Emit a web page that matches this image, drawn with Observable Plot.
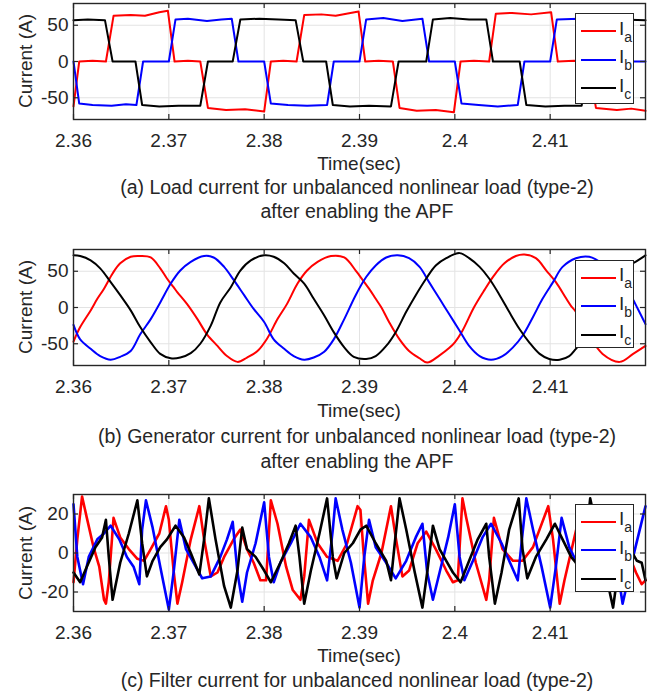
<!DOCTYPE html>
<html><head><meta charset="utf-8">
<script src="https://cdn.jsdelivr.net/npm/d3@7"></script>
<script src="https://cdn.jsdelivr.net/npm/@observablehq/plot@0.6"></script>
<style>
html,body{margin:0;padding:0;background:#fff;}
#root{position:relative;width:654px;height:698px;overflow:hidden;font-family:"Liberation Sans",Arial,Helvetica,sans-serif;color:#262626;}
.panel{position:absolute;left:0;}
.txt{position:absolute;text-align:center;white-space:nowrap;line-height:1;transform:translateY(-50%);}
.ylab{position:absolute;white-space:nowrap;line-height:1;font-size:19px;transform:translate(-50%,-50%) rotate(-90deg);}
.legend{position:absolute;background:#fff;border:1.3px solid #262626;box-sizing:border-box;}
.legend .ln{position:absolute;height:2px;}
.legend .lb{position:absolute;font-size:19px;line-height:19px;white-space:nowrap;color:#262626;}
.legend .lb span{font-size:14px;position:relative;top:7px;}
</style></head><body><div id="root"></div>
<script>
// ---------- axis values ----------
const xTicks = [2.36, 2.37, 2.38, 2.39, 2.40, 2.41];
const xDomain = [2.36, 2.42];
const yTicksAB = [-50, 0, 50];
const yTicksC = [-20, 0, 20];
const seriesNames = ["a", "b", "c"];
const seriesColors = ["#ff0000", "#0000ff", "#000000"];
const captions = [
  ["(a) Load current for unbalanced nonlinear load (type-2)", "after enabling the APF"],
  ["(b) Generator current for unbalanced nonlinear load (type-2)", "after enabling the APF"],
  ["(c) Filter current for unbalanced nonlinear load (type-2)"]
];

// ---------- (a) load current [time s, current A] ----------
const loadIa = [[2.3600,-62],[2.3606,0],[2.3620,1],[2.3634,0],[2.3642,63],[2.3660,64],[2.3675,63],[2.3690,68],[2.3699,70],[2.3706,0],[2.3720,1],[2.3733,0],[2.3741,-64],[2.3760,-67],[2.3780,-66],[2.3800,-69],[2.3807,0],[2.3820,1],[2.3834,0],[2.3842,64],[2.3860,65],[2.3875,63],[2.3899,69],[2.3906,0],[2.3920,1],[2.3935,0],[2.3942,-64],[2.3960,-68],[2.3980,-67],[2.3999,-70],[2.4006,0],[2.4020,1],[2.4036,0],[2.4043,66],[2.4060,67],[2.4080,65],[2.4101,68],[2.4108,0],[2.4125,1],[2.4140,0],[2.4148,-64],[2.4170,-67],[2.4185,-65],[2.4200,-68]];
const loadIb = [[2.3600,0],[2.3606,-58],[2.3620,-60],[2.3640,-61],[2.3655,-59],[2.3666,-60],[2.3673,0],[2.3700,0],[2.3707,58],[2.3720,59],[2.3740,56],[2.3755,58],[2.3766,59],[2.3773,0],[2.3800,0],[2.3807,-58],[2.3825,-60],[2.3845,-61],[2.3866,-60],[2.3873,0],[2.3900,0],[2.3907,58],[2.3925,60],[2.3945,56],[2.3966,59],[2.3973,0],[2.4000,0],[2.4007,-58],[2.4025,-60],[2.4045,-62],[2.4066,-60],[2.4073,0],[2.4100,0],[2.4107,58],[2.4130,59],[2.4150,57],[2.4166,59],[2.4173,0],[2.4200,0]];
const loadIc = [[2.3600,57],[2.3615,58],[2.3633,57],[2.3641,0],[2.3665,0],[2.3672,-60],[2.3690,-62],[2.3710,-61],[2.3733,-61],[2.3741,0],[2.3767,0],[2.3775,58],[2.3795,59],[2.3815,58],[2.3833,57],[2.3841,0],[2.3865,0],[2.3872,-60],[2.3890,-62],[2.3910,-61],[2.3933,-62],[2.3941,0],[2.3970,0],[2.3977,58],[2.3995,60],[2.4015,58],[2.4033,58],[2.4040,0],[2.4068,0],[2.4075,-60],[2.4095,-62],[2.4115,-61],[2.4133,-61],[2.4141,0],[2.4167,0],[2.4175,58],[2.4200,57]];

// ---------- (b) generator current ----------
const genIa = [[2.3600,-47],[2.3607,-27],[2.3618,-4],[2.3625,12],[2.3632,26],[2.3641,47],[2.3649,61],[2.3660,70],[2.3670,71],[2.3681,69],[2.3691,54],[2.3698,40],[2.3705,28],[2.3709,21],[2.3719,5],[2.3730,-16],[2.3740,-37],[2.3751,-53],[2.3761,-67],[2.3772,-75],[2.3782,-69],[2.3793,-60],[2.3803,-43],[2.3814,-16],[2.3824,5],[2.3835,33],[2.3845,51],[2.3856,63],[2.3870,71],[2.3884,69],[2.3896,51],[2.3900,44],[2.3910,26],[2.3917,12],[2.3923,0],[2.3931,-20],[2.3942,-44],[2.3952,-60],[2.3963,-70],[2.3971,-76],[2.3984,-66],[2.3994,-56],[2.4000,-48],[2.4008,-32],[2.4020,0],[2.4031,24],[2.4041,44],[2.4052,61],[2.4064,71],[2.4073,73],[2.4085,68],[2.4096,51],[2.4106,35],[2.4117,12],[2.4122,2],[2.4127,-6],[2.4141,-39],[2.4155,-64],[2.4173,-75],[2.4187,-64],[2.4200,-53]];
const genIb = [[2.3600,-24],[2.3607,-44],[2.3618,-57],[2.3628,-67],[2.3639,-72],[2.3649,-68],[2.3660,-60],[2.3670,-37],[2.3681,-16],[2.3691,7],[2.3702,33],[2.3712,51],[2.3723,63],[2.3737,71],[2.3747,69],[2.3758,56],[2.3768,38],[2.3779,17],[2.3789,-2],[2.3800,-20],[2.3810,-44],[2.3821,-57],[2.3831,-67],[2.3842,-72],[2.3852,-69],[2.3863,-61],[2.3873,-44],[2.3884,-16],[2.3896,17],[2.3907,42],[2.3917,58],[2.3928,69],[2.3940,72],[2.3952,68],[2.3963,56],[2.3973,35],[2.3984,12],[2.3994,-9],[2.4005,-32],[2.4015,-53],[2.4026,-67],[2.4038,-72],[2.4050,-67],[2.4061,-55],[2.4071,-39],[2.4082,-13],[2.4092,12],[2.4103,35],[2.4113,56],[2.4127,68],[2.4141,70],[2.4155,60],[2.4170,38],[2.4185,15],[2.4192,-2],[2.4200,-23]];
const genIc = [[2.3600,72],[2.3607,71],[2.3618,65],[2.3628,54],[2.3639,35],[2.3649,17],[2.3660,-4],[2.3670,-27],[2.3681,-48],[2.3691,-64],[2.3702,-70],[2.3712,-69],[2.3723,-63],[2.3733,-50],[2.3744,-25],[2.3754,7],[2.3765,28],[2.3775,51],[2.3786,65],[2.3800,72],[2.3810,70],[2.3821,61],[2.3831,47],[2.3842,33],[2.3852,12],[2.3863,-11],[2.3873,-34],[2.3884,-55],[2.3894,-68],[2.3907,-71],[2.3917,-67],[2.3928,-53],[2.3938,-34],[2.3949,-6],[2.3959,17],[2.3970,40],[2.3980,58],[2.3991,68],[2.4005,75],[2.4015,68],[2.4026,56],[2.4036,40],[2.4047,17],[2.4057,-6],[2.4068,-30],[2.4078,-48],[2.4089,-64],[2.4099,-71],[2.4110,-72],[2.4120,-67],[2.4127,-57],[2.4138,-40],[2.4149,-10],[2.4159,15],[2.4170,38],[2.4180,55],[2.4192,65],[2.4200,72]];

// ---------- (c) filter current ----------
const filtIa = [[2.3600,-15],[2.3604,7],[2.3609,29],[2.3614,18],[2.3621,3],[2.3627,-7],[2.3632,-24],[2.3634,-26],[2.3637,-15],[2.3642,18],[2.3649,8],[2.3658,2],[2.3667,-3],[2.3674,-4],[2.3681,2],[2.3690,10],[2.3697,24],[2.3700,17],[2.3705,-9],[2.3709,-26],[2.3714,-15],[2.3723,7],[2.3732,24],[2.3737,7],[2.3744,-12],[2.3751,-10],[2.3758,-2],[2.3768,7],[2.3775,12],[2.3782,2],[2.3789,-5],[2.3796,-14],[2.3802,-14],[2.3807,27],[2.3814,15],[2.3823,-7],[2.3830,-19],[2.3838,-24],[2.3842,-12],[2.3847,17],[2.3856,5],[2.3866,-2],[2.3877,-4],[2.3887,5],[2.3898,24],[2.3901,22],[2.3904,2],[2.3909,-26],[2.3914,-14],[2.3923,0],[2.3933,24],[2.3938,8],[2.3945,-12],[2.3952,-9],[2.3961,5],[2.3970,11],[2.3980,2],[2.3991,-9],[2.3998,-15],[2.4003,-14],[2.4008,28],[2.4012,18],[2.4022,-5],[2.4033,-24],[2.4036,-14],[2.4041,18],[2.4050,2],[2.4061,-4],[2.4071,-4],[2.4082,3],[2.4098,24],[2.4103,7],[2.4110,-26],[2.4115,-14],[2.4124,5],[2.4133,24],[2.4138,8],[2.4145,-12],[2.4152,-9],[2.4161,5],[2.4170,11],[2.4180,2],[2.4190,-10],[2.4196,-16],[2.4200,-14]];
const filtIb = [[2.3600,25],[2.3604,-2],[2.3610,-16],[2.3616,-2],[2.3625,7],[2.3632,10],[2.3639,14],[2.3648,7],[2.3656,-2],[2.3663,-7],[2.3669,-16],[2.3672,12],[2.3676,27],[2.3683,13],[2.3691,-7],[2.3700,-29],[2.3705,-10],[2.3711,17],[2.3718,2],[2.3726,-5],[2.3735,-13],[2.3744,-12],[2.3754,-2],[2.3761,7],[2.3767,16],[2.3772,-10],[2.3777,-25],[2.3782,-10],[2.3791,5],[2.3800,26],[2.3805,-2],[2.3810,-15],[2.3817,-5],[2.3828,5],[2.3838,15],[2.3849,8],[2.3858,-2],[2.3866,-14],[2.3872,12],[2.3875,28],[2.3882,12],[2.3891,-5],[2.3900,-28],[2.3905,-2],[2.3910,17],[2.3917,3],[2.3928,-5],[2.3938,-13],[2.3949,-4],[2.3959,8],[2.3966,15],[2.3971,-10],[2.3977,-24],[2.3984,-10],[2.3993,8],[2.4000,25],[2.4005,-2],[2.4010,-14],[2.4019,-4],[2.4029,8],[2.4038,15],[2.4049,5],[2.4057,-4],[2.4066,-14],[2.4071,10],[2.4075,28],[2.4082,12],[2.4091,-7],[2.4100,-28],[2.4106,-7],[2.4112,18],[2.4120,3],[2.4127,-4],[2.4138,-13],[2.4149,-4],[2.4159,8],[2.4166,15],[2.4171,-10],[2.4176,-26],[2.4187,-2],[2.4197,18],[2.4200,24]];
const filtIc = [[2.3600,-10],[2.3607,-15],[2.3614,-7],[2.3623,3],[2.3630,8],[2.3634,17],[2.3637,-2],[2.3641,-24],[2.3649,-5],[2.3658,10],[2.3667,27],[2.3672,5],[2.3677,-12],[2.3683,-4],[2.3691,3],[2.3698,7],[2.3707,14],[2.3716,8],[2.3723,0],[2.3732,-11],[2.3737,7],[2.3742,28],[2.3749,7],[2.3758,-17],[2.3765,-28],[2.3772,-9],[2.3777,13],[2.3782,2],[2.3791,-2],[2.3800,-9],[2.3807,-15],[2.3817,-5],[2.3826,5],[2.3833,14],[2.3837,-2],[2.3842,-26],[2.3849,-9],[2.3858,10],[2.3866,28],[2.3872,-2],[2.3876,-13],[2.3884,0],[2.3893,5],[2.3901,12],[2.3907,14],[2.3917,5],[2.3928,-4],[2.3933,-14],[2.3937,5],[2.3942,28],[2.3949,12],[2.3958,-10],[2.3966,-28],[2.3971,-10],[2.3977,14],[2.3984,2],[2.3991,-4],[2.3998,-10],[2.4006,-15],[2.4015,-4],[2.4024,7],[2.4033,15],[2.4036,-2],[2.4042,-26],[2.4049,-10],[2.4057,12],[2.4067,28],[2.4071,2],[2.4076,-13],[2.4085,-2],[2.4096,7],[2.4105,15],[2.4113,7],[2.4122,-2],[2.4127,-5],[2.4133,-14],[2.4137,5],[2.4142,28],[2.4149,12],[2.4158,-10],[2.4166,-28],[2.4171,-10],[2.4177,14],[2.4184,2],[2.4191,-4],[2.4196,-5],[2.4200,-14]];

// ---------- drawing ----------
const root = document.getElementById("root");
const W = 654, mL = 73, mR = 9, mT = 3, mB = 35;
const axisColor = "#262626", gridColor = "#e3e3e3";

function drawPanel(cfg) {
  const {series, yDomain, yTicks, top, ph, lw, curve, legendBox, rows, timeY, capY, caps} = cfg;
  const H = mT + ph + mB;
  const pw = W - mL - mR;
  const marks = [
    Plot.ruleX(xTicks, {x: d => d, stroke: gridColor, strokeWidth: 1}),
    Plot.ruleY(yTicks, {y: d => d, stroke: gridColor, strokeWidth: 1}),
    ...series.map((s, i) => Plot.line(s, {x: d => d[0], y: d => d[1], stroke: seriesColors[i], strokeWidth: lw, curve, strokeLinejoin: "round"})),
    Plot.tickX(xTicks, {x: d => d, insetTop: ph - 5, stroke: axisColor, strokeWidth: 1.2}),
    Plot.tickX(xTicks, {x: d => d, insetBottom: ph - 5, stroke: axisColor, strokeWidth: 1.2}),
    Plot.tickY(yTicks, {y: d => d, insetRight: pw - 5, stroke: axisColor, strokeWidth: 1.2}),
    Plot.tickY(yTicks, {y: d => d, insetLeft: pw - 5, stroke: axisColor, strokeWidth: 1.2}),
    Plot.frame({stroke: axisColor, strokeWidth: 1.4})
  ];
  const svg = Plot.plot({
    width: W, height: H,
    marginLeft: mL, marginRight: mR, marginTop: mT, marginBottom: mB,
    style: {fontFamily: "'Liberation Sans', Arial, sans-serif", fontSize: "19px", color: axisColor, background: "transparent", overflow: "visible"},
    x: {domain: xDomain, ticks: xTicks, tickFormat: d => String(d), tickSize: 0, tickPadding: 14, label: null},
    y: {domain: yDomain, ticks: yTicks, tickFormat: d => String(d), tickSize: 0, tickPadding: 5, label: null},
    marks
  });
  const wrap = document.createElement("div");
  wrap.className = "panel";
  wrap.style.top = top + "px";
  wrap.appendChild(svg);
  root.appendChild(wrap);

  // y label
  const yl = document.createElement("div");
  yl.className = "ylab";
  yl.textContent = "Current (A)";
  yl.style.left = "25px";
  yl.style.top = (top + mT + ph / 2) + "px";
  root.appendChild(yl);

  // legend
  const lg = document.createElement("div");
  lg.className = "legend";
  lg.style.left = legendBox[0] + "px";
  lg.style.top = legendBox[1] + "px";
  lg.style.width = legendBox[2] + "px";
  lg.style.height = legendBox[3] + "px";
  seriesNames.forEach((n, i) => {
    const ln = document.createElement("div");
    ln.className = "ln";
    ln.style.left = "5px"; ln.style.width = "35px";
    ln.style.top = (rows[i] - 1) + "px";
    ln.style.background = seriesColors[i];
    lg.appendChild(ln);
    const lb = document.createElement("div");
    lb.className = "lb";
    lb.style.left = "43px";
    lb.style.top = (rows[i] - 12.5) + "px";
    lb.innerHTML = "I<span>" + n + "</span>";
    lg.appendChild(lb);
  });
  root.appendChild(lg);

  // x label
  const tl = document.createElement("div");
  tl.className = "txt";
  tl.style.fontSize = "19px";
  tl.style.left = mL + "px"; tl.style.width = pw + "px";
  tl.style.top = timeY + "px";
  tl.textContent = "Time(sec)";
  root.appendChild(tl);

  caps.forEach((c, i) => {
    const d = document.createElement("div");
    d.className = "txt";
    d.style.fontSize = "19.5px";
    d.style.left = "0px"; d.style.width = "714px";
    d.style.top = capY[i] + "px";
    d.textContent = c;
    root.appendChild(d);
  });
}

drawPanel({series: [loadIa, loadIb, loadIc], yDomain: [-80, 80], yTicks: yTicksAB, top: 0, ph: 116, lw: 2, curve: "linear",
  legendBox: [575, 13, 59, 91], rows: [17, 45.5, 74], timeY: 163, capY: [188, 212], caps: captions[0]});
drawPanel({series: [genIa, genIb, genIc], yDomain: [-80, 80], yTicks: yTicksAB, top: 246, ph: 116, lw: 2, curve: "catmull-rom",
  legendBox: [575, 260, 59, 88], rows: [16.5, 45, 73.5], timeY: 410, capY: [437, 462], caps: captions[1]});
drawPanel({series: [filtIa, filtIb, filtIc], yDomain: [-30, 30], yTicks: yTicksC, top: 491, ph: 117, lw: 2.6, curve: "linear",
  legendBox: [575, 504, 59, 88], rows: [16.5, 45, 73.5], timeY: 655, capY: [681], caps: captions[2]});
</script></body></html>
